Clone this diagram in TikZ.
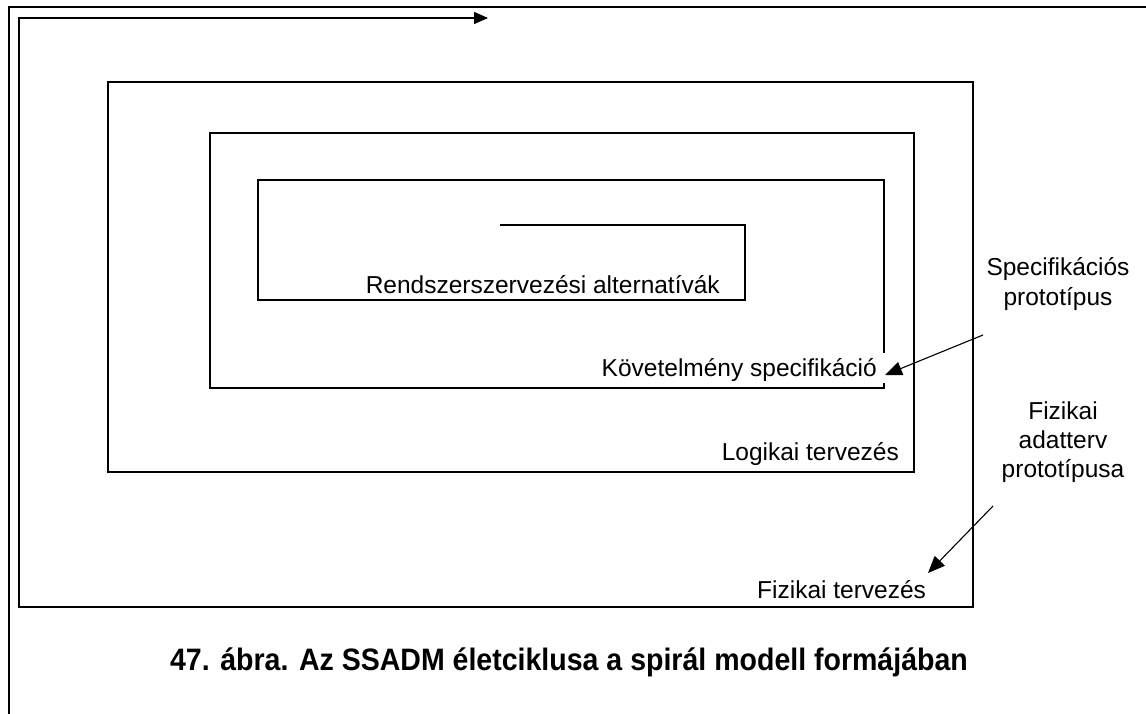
\documentclass[tikz,border=0pt]{standalone}
\usepackage{fontspec}
\setmainfont{Liberation Sans}
\newfontfamily\capfont[FakeStretch=0.92]{Liberation Sans}
\usetikzlibrary{arrows.meta}
\begin{document}
\begin{tikzpicture}[x=1pt,y=-1pt,
  frameline/.style={line width=2.2pt},
  spiral/.style={line width=1.3pt, line join=miter},
  pointer/.style={line width=1.1pt, -{Triangle[length=17pt,width=14pt]}},
  lbl/.style={inner sep=0pt, font=\fontsize{24.5}{28}\selectfont},
  sidelbl/.style={inner sep=0pt, align=center, font=\fontsize{24.5}{29}\selectfont},
  caption/.style={inner sep=0pt, font=\capfont\bfseries\fontsize{31}{36}\selectfont}]
\useasboundingbox (0,0) rectangle (1146,714);

% page frame
\draw[frameline] (9,714) -- (9,7) -- (1146,7);

% spiral, from the centre outwards
\coordinate (s0) at (500,225);
\coordinate (gapTop) at (884,353);
\coordinate (gapBot) at (884,383);
\coordinate (sEnd) at (488,18);
\draw[spiral] (s0) -- (745,225) -- (745,300) -- (258,300) -- (258,180) -- (884,180) -- (gapTop);
\draw[spiral, -{Triangle[length=14pt,width=12pt]}] (gapBot) -- (884,388) -- (210,388) -- (210,133)
  -- (914,133) -- (914,472) -- (108,472) -- (108,82) -- (973,82) -- (973,607)
  -- (19,607) -- (19,18) -- (sEnd);

% phase labels
\node[lbl, anchor=base east] (alt) at (720,293) {Rendszerszervezési alternatívák};
\node[lbl, anchor=base east] (req) at (877,376) {Követelmény specifikáció};
\node[lbl, anchor=base east] (log) at (899,460) {Logikai tervezés};
\node[lbl, anchor=base west] (phy) at (757,598) {Fizikai tervezés};

% prototype labels with pointers
\node[sidelbl, anchor=base] (spec) at (1058,305) {Specifikációs\\prototípus};
\node[sidelbl, anchor=base] (fiz) at (1063,477) {Fizikai\\adatterv\\prototípusa};
\coordinate (specFrom) at (983,335);
\coordinate (specTo) at (885,375);
\coordinate (fizFrom) at (993,506);
\coordinate (fizTo) at (928,573);
\draw[pointer] (specFrom) -- (specTo);
\draw[pointer] (fizFrom) -- (fizTo);

% caption
\node[caption, anchor=base] (cap) at (569,670) {47. ábra. Az SSADM életciklusa a spirál modell formájában};
\end{tikzpicture}
\end{document}
